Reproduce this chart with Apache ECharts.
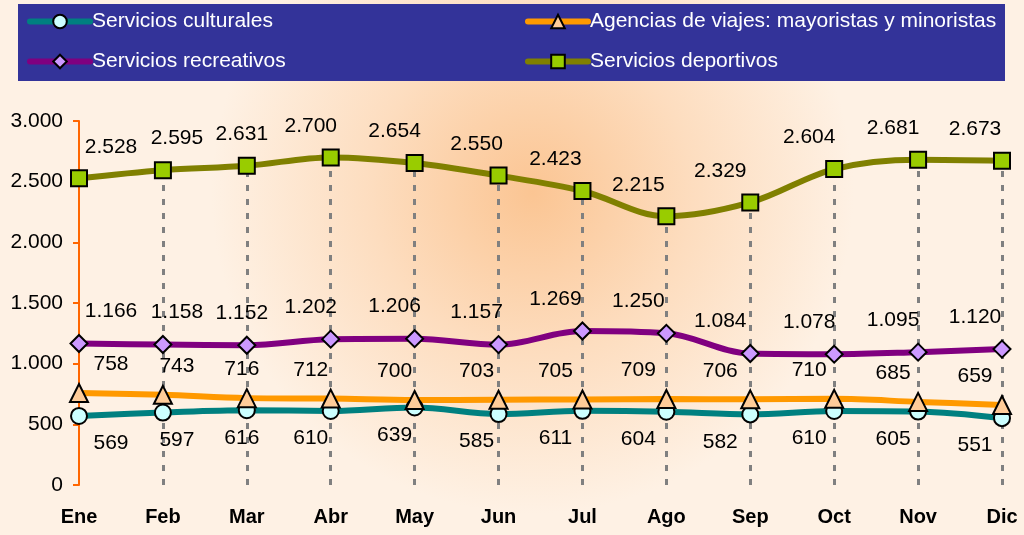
<!DOCTYPE html>
<html>
<head>
<meta charset="utf-8">
<script src="https://cdn.jsdelivr.net/npm/echarts@6/dist/echarts.min.js"></script>
<style>
  html, body { margin: 0; padding: 0; }
  #chart { width: 1024px; height: 535px; }
</style>
</head>
<body>
<div id="chart"></div>
<script>
var months = ["Ene", "Feb", "Mar", "Abr", "May", "Jun", "Jul", "Ago", "Sep", "Oct", "Nov", "Dic"];
var culturales = [569, 597, 616, 610, 639, 585, 611, 604, 582, 610, 605, 551];
var agencias = [758, 743, 716, 712, 700, 703, 705, 709, 706, 710, 685, 659];
var recreativos = [1166, 1158, 1152, 1202, 1206, 1157, 1269, 1250, 1084, 1078, 1095, 1120];
var deportivos = [2528, 2595, 2631, 2700, 2654, 2550, 2423, 2215, 2329, 2604, 2681, 2673];
var yTicks = [0, 500, 1000, 1500, 2000, 2500, 3000];

// horizontal shift of the value labels, per month
var labelShiftX = [32, 14, -5, -20, -20, -22, -27, -28, -30, -25, -25, -27];

var font = "'Liberation Sans', Arial, sans-serif";

function fmt(v) {
  return String(v).replace(/\B(?=(\d{3})+(?!\d))/g, ".");
}

function labelled(values, pos, dy) {
  return values.map(function (v, i) {
    return {
      value: v,
      label: { position: pos, offset: [labelShiftX[i], dy] }
    };
  });
}

function makeSeries(name, values, color, symbol, fill, size, pos, dy) {
  return {
    name: name,
    type: "line",
    smooth: 0.35,
    z: 3,
    data: labelled(values, pos, dy),
    symbol: symbol,
    symbolSize: size,
    lineStyle: { color: color, width: 6 },
    itemStyle: { color: fill, borderColor: "#000", borderWidth: 2 },
    label: {
      show: true,
      distance: 0,
      color: "#000",
      fontSize: 21,
      fontFamily: font,
      formatter: function (p) { return fmt(p.value); }
    }
  };
}

// drop lines from the top series down to the x axis
var dropLines = [];
for (var i = 1; i < months.length; i++) {
  dropLines.push([{ coord: [i, 0] }, { coord: [i, deportivos[i]] }]);
}

var legendBase = {
  orient: "vertical",
  top: 10,
  padding: 0,
  itemWidth: 60, itemHeight: 17, itemGap: 17,
  lineStyle: { width: 6, cap: "round" },
  textStyle: { color: "#fff", fontSize: 21, lineHeight: 23, fontFamily: font, padding: [0, 0, 0, -3] }
};

var chart = echarts.init(document.getElementById("chart"));
chart.setOption({
  animation: false,
  backgroundColor: {
    type: "radial", x: 0.52, y: 0.36, r: 0.6,
    colorStops: [
      { offset: 0, color: "#FBC593" },
      { offset: 0.5, color: "#FDDDBF" },
      { offset: 1, color: "#FEF1E4" }
    ]
  },
  graphic: [{
    type: "rect",
    left: 18, top: 4, z: 0,
    shape: { width: 987, height: 77 },
    style: { fill: "#333399" }
  }],
  legend: [
    Object.assign({}, legendBase, { left: 27, data: ["Servicios culturales", "Servicios recreativos"] }),
    Object.assign({}, legendBase, { left: 525, data: ["Agencias de viajes: mayoristas y minoristas", "Servicios deportivos"] })
  ],
  grid: { left: 79, right: 22, top: 121, bottom: 50 },
  xAxis: {
    type: "category",
    data: months,
    boundaryGap: false,
    axisLine: { show: false },
    axisTick: { show: false },
    axisLabel: { color: "#000", fontSize: 20, fontWeight: "bold", fontFamily: font, margin: 22 }
  },
  yAxis: {
    type: "value",
    min: yTicks[0], max: yTicks[yTicks.length - 1], interval: 500,
    axisLine: { show: true, lineStyle: { color: "#FF6600", width: 2 } },
    axisTick: { show: true, length: 6, lineStyle: { color: "#FF6600", width: 2 } },
    splitLine: { show: false },
    axisLabel: { color: "#000", fontSize: 21, fontFamily: font, margin: 16, formatter: fmt }
  },
  series: [
    {
      name: "drop",
      type: "line",
      data: deportivos,
      symbol: "none",
      silent: true,
      z: 1,
      lineStyle: { opacity: 0 },
      markLine: {
        silent: true,
        z: 1,
        symbol: "none",
        label: { show: false },
        lineStyle: { color: "#808080", type: [6, 8], width: 3 },
        data: dropLines
      }
    },
    makeSeries("Servicios culturales", culturales, "#008080", "circle", "#CCFFFF", 16, "bottom", 8),
    makeSeries("Agencias de viajes: mayoristas y minoristas", agencias, "#FF9900", "triangle", "#FFCC99", 18, "top", -8),
    makeSeries("Servicios recreativos", recreativos, "#800080", "diamond", "#CC99FF", 17, "top", -12),
    makeSeries("Servicios deportivos", deportivos, "#808000", "rect", "#99CC00", 16, "top", -12)
  ]
});
</script>
</body>
</html>
